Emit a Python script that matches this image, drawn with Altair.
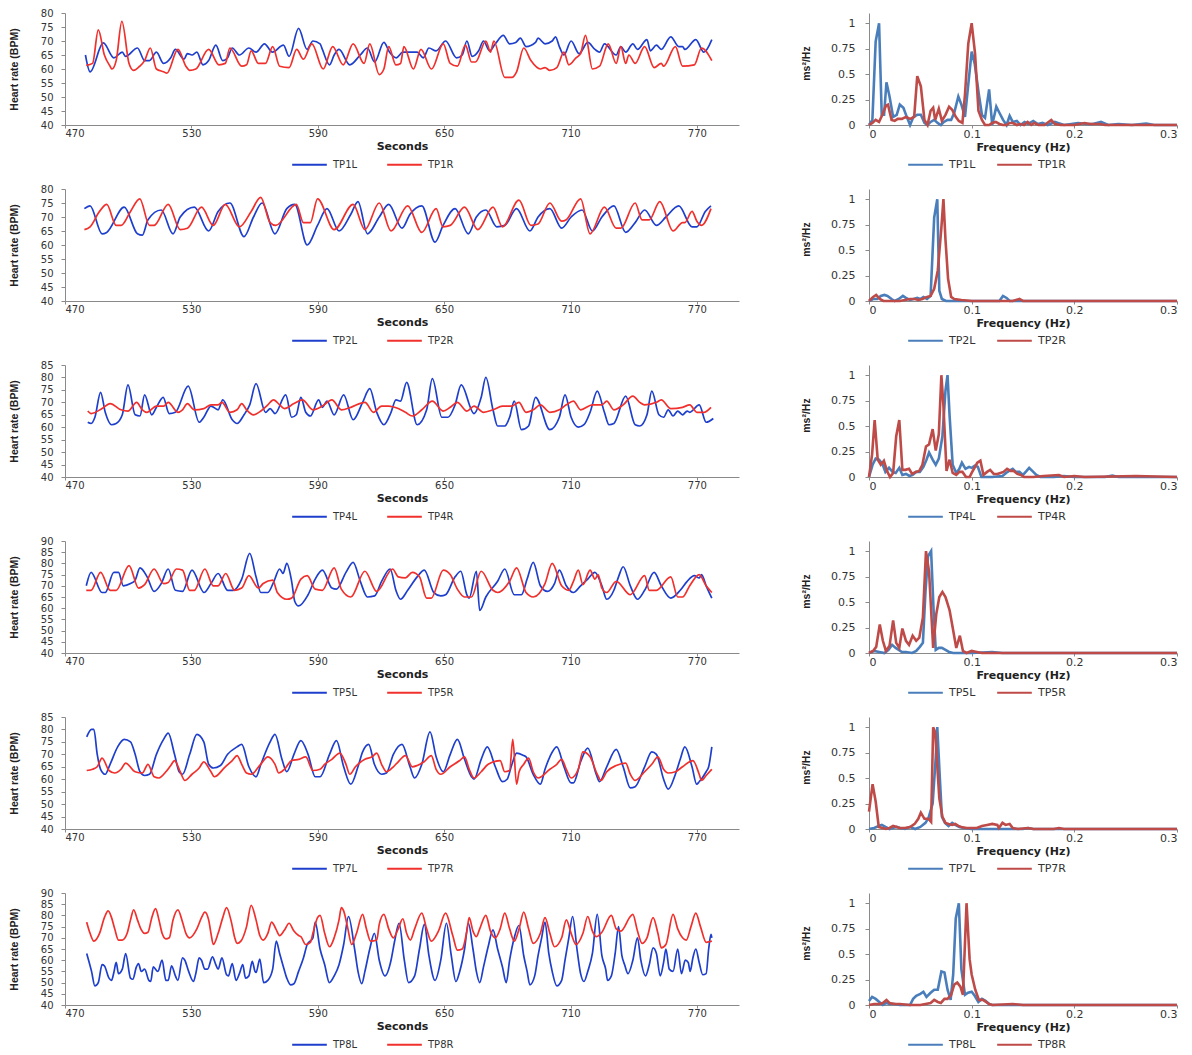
import altair as alt
import pandas as pd

# ---------------- heart-rate time series (seconds, BPM) ----------------
TP1L = [(479.7,65),(481.9,59),(488.2,69.3),(493.2,64),(497.2,66),(498.8,64.5),(504.4,67.5),(507.8,63),(510.1,63),(513.4,66),(516.8,62),(520.2,64),(522.4,67),(526.5,63.5),(528.1,65.5),(530.3,65),(532.6,66),(535.5,61.5),(538.2,63),(541.6,68.5),(544.9,63),(547.2,64),(549.4,67.5),(552.8,65),(557.3,67.5),(560.7,66),(564.7,69),(568.5,66),(573.7,68.5),(576.4,64.5),(580.9,74.5),(584.9,67),(587.7,70),(591.1,69),(592.2,67),(595.6,61.5),(597.8,65),(600.1,67),(605.2,61.5),(610.2,65),(613.6,67.5),(617.0,62.5),(621.4,69.5),(624.1,66),(627.3,64),(630.4,66),(634.9,66),(637.2,66),(640.1,64),(642.8,67.5),(646.2,66.5),(650.7,70),(655.9,64),(658.6,65),(660.8,70),(663.3,64.5),(666.4,66.5),(668.7,70),(671.6,66.5),(674.3,69),(678.1,72),(681.1,69),(684.0,69.5),(686.2,71),(688.9,68),(693.4,69.5),(694.6,71),(697.9,69),(701.3,70),(702.9,71.5),(704.7,68),(706.9,65),(710.3,70),(714.1,65.5),(718.2,69.5),(721.6,67),(723.8,66),(726.1,69),(731.7,65),(733.9,68),(736.2,66),(739.6,69),(741.8,67),(746.3,70.5),(747.9,66.5),(750.8,68.5),(753.1,67),(757.6,71.5),(761.4,68),(763.2,68),(764.3,67),(769.5,70.5),(773.3,66),(777.1,70.5)]
TP1R = [(480.1,61.3),(483.1,62),(485.8,74),(488.7,65),(491.4,61),(492.3,60),(494.3,63),(497.0,77),(500.4,62),(502.6,59.5),(505.5,61),(507.8,63),(510.5,67.5),(513.4,60),(516.8,59),(518.4,58.5),(523.6,67),(527.4,61),(529.2,59.5),(532.1,60),(538.2,67),(543.1,61.5),(546.1,62),(548.3,67.5),(553.9,61),(556.2,61.5),(558.4,66.5),(561.8,62),(565.2,62),(568.6,68),(571.9,61),(576.4,60.5),(580.0,67),(583.2,63.5),(587.2,69),(592.6,60),(597.1,68),(602.1,61.5),(606.8,69),(612.0,62),(614.7,69),(619.2,58),(621.4,60),(623.7,68),(627.1,61.5),(629.3,62),(630.9,68),(635.4,60),(639.0,67),(644.0,60),(649.6,69),(652.9,62),(656.3,61),(660.1,68.5),(663.0,62.5),(664.9,62.5),(669.8,70),(672.0,66),(673.6,70),(678.8,57),(682.2,57),(684.4,59),(687.8,67.5),(691.2,63),(695.7,60),(697.9,60.5),(700.2,59.5),(703.5,60.5),(706.9,66),(709.2,61.5),(712.6,64),(714.8,65.5),(717.1,72),(720.4,60),(723.8,61),(727.9,69),(731.7,62),(733.9,68),(736.2,62),(737.7,65),(740.7,62),(745.2,68),(749.7,60.5),(753.1,62),(754.2,61),(759.8,68),(763.2,61),(768.8,61.5),(772.2,67.5),(777.1,63)]

TP2L = [(479.2,73),(481.9,74),(487.6,64),(489.8,64.5),(498.1,73.5),(504.4,64),(506.7,63.5),(509.4,69),(515.7,72.5),(521.3,64),(524.7,70),(531.4,73.5),(538.2,65),(542.7,72),(548.3,75),(555.0,63),(559.5,70),(563.6,75),(569.7,64),(575.3,73),(579.1,74.5),(585.0,60),(589.9,67),(594.4,73),(600.1,65),(605.7,71),(609.1,75.5),(613.6,64),(619.2,70),(623.7,74.5),(630.0,66),(633.8,71),(639.4,74),(645.7,61),(649.5,67),(655.2,73),(661.5,64),(665.3,70),(669.8,72.5),(675.0,66.5),(678.8,67),(684.4,73),(690.7,65),(694.6,70),(700.2,73),(705.8,66),(710.3,70),(715.5,72.5),(720.4,65),(724.9,70),(730.6,74),(736.2,64.5),(740.7,68),(745.2,72.5),(750.8,67),(755.3,70),(761.4,74),(767.7,66.5),(770.0,66.5),(774.0,72),(776.7,74)]
TP2R = [(479.2,65.5),(481.9,66.5),(486.4,72),(489.8,74.5),(494.3,67),(496.6,67),(501.1,72),(505.5,76.5),(510.1,67),(512.3,67),(519.0,74.5),(524.7,65.5),(528.1,66),(534.8,73.5),(540.4,67),(546.1,74.5),(552.8,66.5),(558.4,72),(562.9,77),(567.4,68),(570.1,67),(579.8,74.5),(583.2,68),(586.5,68),(589.9,76.5),(597.8,65.5),(606.8,74.5),(612.4,65.5),(619.2,75),(624.8,65),(632.7,74),(639.4,64.5),(646.2,73),(649.5,66.5),(652.9,67),(659.7,73.5),(666.0,65.5),(673.2,73.5),(677.7,66.5),(685.5,76),(691.2,67),(694.6,67.5),(700.2,75),(705.8,68.5),(708.0,69),(714.8,76.5),(719.3,64),(726.1,73.5),(731.7,66),(733.9,66),(740.7,75),(744.0,69),(747.4,69),(752.4,75.5),(758.7,65),(763.2,68),(764.3,68),(767.7,72),(770.0,68.5),(772.2,67),(776.7,73)]

TP4L = [(480.8,62),(482.4,61.5),(484.2,64),(486.9,74),(489.1,66),(492.1,61),(494.3,61.5),(497.2,65),(499.9,77),(503.3,65),(505.6,64.5),(507.8,73),(511.2,65),(513.4,68),(516.6,72),(519.5,65.5),(522.4,66),(528.5,76.5),(533.7,62),(535.9,64),(539.3,68.5),(542.7,67),(544.9,71),(549.4,63),(551.7,61.5),(555.0,65),(557.7,69),(560.7,77.5),(565.2,66),(567.4,67.5),(569.7,65.5),(574.8,73),(577.6,64),(579.8,65),(582.0,72),(584.3,66),(586.5,64.5),(590.4,71),(592.2,68),(594.4,70.5),(597.8,65),(602.3,73),(606.8,63),(611.3,70),(614.7,75.5),(618.0,66),(621.4,61),(624.8,66),(627.1,71),(629.3,70.5),(632.2,78),(637.2,61),(641.7,67),(644.4,79.5),(648.9,64),(651.8,64),(655.2,69),(658.1,77),(664.2,65.5),(667.6,72),(669.8,80),(673.2,67),(675.4,60.5),(678.8,60.5),(681.1,64),(683.3,70.5),(686.7,59),(690.1,60.5),(693.4,72),(700.2,59),(704.7,64),(707.4,73),(710.3,64),(713.7,60),(716.4,61),(719.3,66),(722.7,74.5),(726.1,66),(728.3,61),(730.6,61.5),(736.2,72.5),(740.7,61),(742.9,60.5),(746.3,65),(748.6,74.5),(752.0,65),(754.2,64),(756.4,67),(758.7,64.5),(760.9,66.5),(763.2,65),(765.4,66.5),(766.6,66),(771.1,69),(774.4,62),(777.8,63.5)]
TP4R = [(480.8,66.5),(482.4,65.5),(487.6,67.5),(491.4,69.5),(496.6,67),(499.9,66.5),(504.0,70),(506.7,67),(508.9,66),(513.4,68.5),(516.8,68.5),(519.0,70),(523.6,66),(525.8,67),(528.1,69.5),(531.4,67),(535.9,67.5),(539.3,69),(542.7,69),(544.5,70),(548.3,66),(551.7,67),(553.9,69.5),(556.2,67),(559.5,65),(563.0,66.5),(566.3,69),(569.0,71),(571.9,69),(574.2,67.5),(578.7,69.5),(582.7,71),(587.7,67),(592.2,68.5),(596.7,71),(601.2,67),(605.7,68),(612.4,70),(616.5,66),(620.3,68.5),(623.7,68.5),(628.2,67.5),(631.6,66),(634.9,64.5),(639.4,67),(644.4,70.5),(649.5,66.5),(652.9,68),(656.3,70),(660.8,66.5),(664.2,68.5),(668.7,66),(673.2,67),(677.7,68.5),(682.2,68.5),(685.5,70),(688.9,66),(692.3,67),(695.7,69),(700.2,66),(704.7,67),(708.0,69),(711.4,70.5),(714.8,67),(720.4,69),(724.9,69),(727.2,70.5),(730.6,67),(735.0,69),(739.6,72.5),(742.9,70),(745.2,69),(750.8,70),(753.1,71),(757.6,67.5),(763.2,68),(766.6,69),(770.0,66),(773.3,66),(776.7,68)]

TP5L = [(480.1,70),(482.4,76),(487.6,67),(489.1,67),(493.2,76),(495.4,76),(497.7,70),(501.1,71),(503.3,72.5),(505.6,78),(509.0,74),(512.3,67.5),(515.7,71),(519.0,77.5),(522.4,68),(525.8,67.5),(530.3,77),(536.0,67),(539.3,71),(542.7,75.5),(547.2,68),(549.9,68),(553.9,73),(557.7,84.5),(560.7,74),(563.0,67),(566.3,67),(569.2,72),(571.9,77.5),(573.5,75.5),(575.3,80),(577.6,72),(579.1,63),(580.9,61),(585.4,66),(588.8,73),(592.2,77),(596.7,69),(598.9,68.5),(603.4,76),(606.8,80.5),(610.2,72),(613.6,65),(617.0,65.5),(620.3,72),(624.4,77.5),(627.1,68),(629.3,64),(632.7,68),(637.2,74),(640.6,77),(645.1,67),(648.4,65.5),(650.7,66),(655.2,74),(657.9,76.5),(660.8,66),(661.9,64.5),(665.3,76.5),(666.9,59),(669.8,65),(675.4,72),(678.8,77.5),(683.3,66),(686.7,66),(689.4,73),(692.3,80.5),(695.7,70),(699.0,67.5),(702.4,71),(704.7,77),(708.0,70),(711.4,67),(714.8,70),(718.2,73),(721.6,76),(724.9,70),(727.2,64),(730.6,68),(732.8,74),(735.0,78.5),(738.4,70),(741.8,64),(745.2,68),(749.7,76),(753.1,70),(757.6,64.5),(762.1,68),(765.4,72),(768.8,74.5),(771.1,73.5),(772.2,75),(774.4,70),(777.1,64.5)]
TP5R = [(480.1,68),(482.4,68),(486.9,76),(491.4,68),(494.3,68),(500.4,79),(504.9,69),(507.8,70.5),(512.3,77.5),(516.8,71),(519.0,71.5),(522.9,77.5),(525.8,77),(529.2,68),(531.4,68),(536.4,77.5),(540.4,70),(542.7,70),(546.3,75.5),(550.5,68),(553.9,69),(557.3,74.5),(561.8,69),(564.1,71),(568.6,72.5),(570.8,67),(575.3,64),(577.6,64.5),(582.0,73),(585.0,74.5),(588.8,68.5),(592.2,68),(597.8,78),(601.2,68.5),(605.7,65),(612.4,76.5),(618.0,67.5),(625.5,77.5),(628.2,74),(631.6,73.5),(634.9,76),(638.3,74),(641.7,64.5),(643.9,64.5),(649.6,77),(652.9,75),(656.3,68.5),(659.7,65),(663.0,65),(667.6,76.5),(673.2,68),(675.4,67),(681.1,72),(684.4,78),(688.9,67),(692.3,65),(697.9,71),(701.3,80),(705.8,70),(709.2,68),(711.4,72),(713.7,77),(715.9,70.5),(719.3,77),(721.6,73),(723.1,75),(724.9,69),(727.2,67),(731.7,72),(738.4,66),(745.2,74.5),(747.4,68),(750.8,68),(757.6,74),(760.9,65),(763.2,65),(766.6,70),(771.1,75),(774.4,70),(777.1,67)]

TP7L = [(480.3,77),(482.6,80),(483.7,80),(485.3,70),(486.9,64),(489.1,62),(491.4,66),(495.0,73),(498.1,76),(501.1,75),(503.3,70),(505.6,63),(507.8,61.5),(510.1,62),(513.4,70),(516.8,76),(519.0,78.5),(522.0,70),(524.2,63),(525.8,62),(529.2,70),(532.6,78),(535.9,75),(538.2,66),(540.4,64.5),(543.8,65.5),(547.2,70),(551.7,73),(553.9,74),(557.3,65),(560.7,61),(563.0,66),(567.4,75),(569.7,78),(573.0,68),(575.3,63),(578.7,70),(582.0,75.5),(585.4,70),(588.8,61),(591.1,61),(595.6,70),(598.9,75.5),(602.3,65),(605.7,58),(609.1,65),(611.3,71),(614.2,74),(616.9,66),(620.3,62),(622.6,62.5),(625.9,70),(630.0,74),(633.8,65),(636.0,60.5),(639.4,66),(643.3,79),(646.2,69),(649.6,63),(652.9,70),(656.3,76),(659.7,68),(663.0,61),(664.2,60),(667.6,68),(670.5,73),(674.3,65),(677.7,59),(679.9,60),(682.2,66),(684.4,70.5),(687.8,69.5),(688.9,69),(692.3,62),(695.7,58),(697.9,64),(700.2,69),(703.5,73),(706.9,65),(710.3,58.5),(711.4,58.5),(714.8,67),(718.2,72.5),(722.2,62),(723.8,59),(727.2,65),(731.7,72),(735.0,65),(738.4,56.5),(740.7,57),(745.2,65),(748.6,71),(750.8,70),(754.2,60),(756.4,56),(759.8,62),(762.1,68),(764.3,73),(767.7,65),(769.9,58),(771.1,59),(774.4,63),(775.6,65),(777.1,73)]
TP7R = [(480.3,63.5),(483.1,64),(485.3,65),(487.6,68.5),(490.9,63.5),(493.6,62.5),(496.6,64),(498.8,66.5),(503.3,63),(506.7,62.5),(509.4,66),(512.3,61),(514.6,60.5),(517.9,63),(520.2,65.5),(522.0,67.5),(524.7,63),(526.9,59.5),(530.3,62),(533.7,64.5),(535.9,67),(539.3,63),(540.9,61),(546.1,65),(549.4,67.5),(551.7,69.5),(553.9,66),(556.2,62.5),(558.4,62),(562.9,66),(566.3,69),(569.7,66),(571.5,62.5),(574.2,64),(577.6,67.5),(581.0,68),(584.3,69),(587.7,63.5),(591.1,64),(593.3,66),(596.7,68),(600.5,70.5),(603.4,66),(605.2,62),(607.9,65),(612.4,68),(615.8,69),(618.0,70.5),(620.3,66),(622.6,63),(625.9,65),(628.2,67),(631.6,69.5),(634.9,65),(637.2,65.5),(640.5,67),(643.9,69.5),(646.2,64),(648.4,62),(652.9,65),(657.4,67.5),(659.7,69),(661.9,64),(664.2,60.5),(667.6,63),(670.9,66),(676.6,67.5),(678.8,63),(681.1,63.5),(682.6,76),(684.4,58),(685.6,63),(687.8,66),(690.1,68.5),(692.3,63),(694.6,60.5),(700.2,64),(703.5,66),(705.8,68),(708.0,64),(710.3,60.5),(713.7,64),(715.9,71),(719.3,69),(722.7,62),(724.5,59.5),(727.2,63),(731.7,65.5),(736.2,66.5),(738.4,62),(740.7,59.5),(745.2,63),(748.6,66),(751.5,69),(754.2,64),(756.4,62.5),(759.8,63),(763.2,65),(768.1,67.5),(771.1,62),(772.2,59.5),(774.4,61.5),(777.1,64)]

TP8L = [(480.3,63),(482.6,55),(484.2,48.5),(485.8,50),(487.6,58),(488.7,57.5),(490.9,52),(492.1,51),(493.2,54.5),(494.3,59),(495.4,54),(497.2,56),(498.8,63),(501.1,52),(502.2,51.5),(503.9,57),(504.9,58.5),(506.2,55),(507.8,56),(509.8,51),(510.7,50.5),(511.9,57),(514.1,55),(516.1,60),(517.9,51),(519.0,51),(520.6,57.5),(522.4,53),(523.6,51),(525.8,61),(526.9,60),(528.7,55),(531.0,50.5),(532.1,54),(533.7,61),(534.8,60),(536.4,56),(537.7,56),(540.0,61.5),(541.6,58),(542.7,56),(544.5,61),(546.7,53.5),(547.6,53),(549.4,58.5),(551.2,51),(552.8,54),(554.4,58),(555.7,52),(557.3,53),(558.9,59.5),(560.2,55),(560.7,54.5),(562.5,60.5),(564.3,50),(566.3,51),(568.6,56),(570.3,68.5),(571.9,63),(573.7,57),(575.3,52),(577.1,49),(578.7,49.5),(580.9,55),(583.2,61),(585.0,67),(587.7,70),(588.8,77),(591.1,65),(593.3,58),(595.5,50),(597.8,53),(600.1,58),(602.3,67),(604.6,79.5),(607.5,65),(609.1,55),(610.9,49.5),(612.4,55),(614.7,65),(616.9,72),(619.2,60),(621.9,53),(624.8,60),(626.4,68),(628.6,76.5),(631.1,60),(633.1,50),(636.0,53),(638.3,65),(640.6,76),(642.8,62),(645.7,51),(648.4,60),(651.1,76.5),(653.4,62),(655.6,50.5),(657.4,55),(659.7,65),(661.5,76.5),(663.7,65),(665.3,55),(666.9,50),(668.7,57),(670.9,66),(673.2,73.5),(675.4,65),(677.7,57),(679.5,50),(681.1,60),(683.3,70),(685.5,75.5),(687.8,62),(689.4,55),(690.7,49),(693.0,53),(694.6,62),(696.3,70),(697.9,77),(699.7,63),(701.3,55),(703.5,48.5),(705.8,51),(707.4,60),(709.2,70),(711.0,79.5),(713.2,64),(714.8,54),(716.4,50.5),(718.2,55),(720.4,63),(722.7,80.5),(724.9,62),(726.7,56),(727.6,51),(729.4,53),(731.2,63),(732.8,75),(734.4,62),(735.7,58),(737.3,54),(739.6,60),(741.8,70),(743.4,60),(745.6,53),(747.4,58),(749.2,65.5),(750.8,63),(752.6,53),(754.2,59),(755.3,65),(756.9,56),(758.7,55),(760.9,65),(762.7,54),(764.5,60),(765.9,59),(766.8,55),(768.1,61),(769.5,65),(771.1,59),(772.8,53.5),(774.4,54),(775.6,65),(776.7,71.5),(777.1,70)]
TP8R = [(480.3,77),(481.9,72),(483.7,68.5),(486.4,72),(488.7,79),(490.5,82),(492.1,79),(493.6,74),(495.4,69),(497.2,69),(499.5,72),(501.1,78),(502.6,82.5),(504.4,78),(506.0,74),(507.8,72),(509.4,72.5),(511.2,79),(513.0,83),(514.6,78),(516.1,72),(517.9,69.5),(519.5,70),(521.3,78),(523.6,82.5),(525.8,77),(527.4,72),(529.2,70),(532.6,74),(534.8,79),(536.4,81.5),(538.2,78),(539.3,72),(540.4,67),(542.7,72),(544.9,79),(546.7,83.5),(549.0,77),(550.6,70),(551.7,67.5),(553.5,68.5),(556.2,75),(558.4,84.5),(560.7,78),(562.5,71),(564.1,69),(566.3,72),(568.1,77),(570.1,74),(571.9,71),(574.2,73.5),(576.4,76.5),(578.7,73),(580.9,71),(582.0,70.5),(584.3,67),(586.5,68),(587.7,72),(589.9,79),(591.1,80),(593.3,72),(595.6,66),(597.8,70),(600.1,78),(601.2,83.5),(602.3,82),(604.1,75),(606.1,67),(608.4,72),(611.3,80.5),(613.1,74),(615.1,68.5),(618.0,69),(619.2,76),(621.4,80.5),(623.7,74),(625.9,70),(628.2,74),(630.4,78.5),(632.2,72),(634.0,69),(636.0,74),(639.4,81),(641.7,74),(643.9,68.5),(647.3,73),(650.7,81),(654.1,71),(656.3,64.5),(658.6,65),(660.8,73),(661.9,79),(663.7,73),(665.3,70.5),(666.9,74),(669.8,80),(672.0,73),(674.3,70),(676.6,74),(678.8,81),(681.1,74),(683.3,68.5),(685.6,74),(687.8,81.5),(690.1,74),(692.3,67.5),(695.7,72),(697.9,79),(700.2,72),(702.4,66),(705.8,70),(708.0,78),(710.3,72),(712.6,67),(715.9,72),(718.2,79.5),(720.4,73),(722.2,70.5),(724.9,72.5),(729.4,80),(731.7,74),(733.9,73),(738.4,79.5),(739.6,80.5),(741.8,73),(744.0,67.5),(746.3,70),(749.2,79),(751.5,72),(753.1,65.5),(755.3,67),(758.7,80.5),(760.9,74),(763.2,70),(765.0,69),(767.2,75),(769.5,81),(771.7,75),(774.4,68),(777.1,68.5)]

# ---------------- normalised spectra (Hz, ms^2/Hz) ----------------
S1L = [(0,0),(0.0033,0.05),(0.0065,0.82),(0.0098,1.0),(0.0124,0.1),(0.0147,0.1),(0.017,0.42),(0.02,0.28),(0.0235,0.08),(0.027,0.1),(0.03,0.2),(0.0335,0.17),(0.0368,0.08),(0.04,0.0),(0.0433,0.08),(0.047,0.1),(0.0505,0.1),(0.054,0.02),(0.057,0.0),(0.06,0.03),(0.0635,0.05),(0.0668,0.02),(0.07,0.0),(0.073,0.03),(0.0765,0.05),(0.08,0.05),(0.083,0.12),(0.087,0.28),(0.09,0.2),(0.0935,0.08),(0.0967,0.4),(0.1,0.72),(0.103,0.6),(0.107,0.3),(0.11,0.1),(0.113,0.07),(0.117,0.35),(0.12,0.0),(0.124,0.18),(0.127,0.12),(0.1306,0.05),(0.134,0.0),(0.137,0.09),(0.14,0.03),(0.144,0.04),(0.1476,0.0),(0.1515,0.03),(0.155,0.01),(0.16,0.04),(0.1645,0.01),(0.169,0.02),(0.174,0.0),(0.181,0.03),(0.184,0.02),(0.19,0.0),(0.197,0.01),(0.2036,0.02),(0.212,0.01),(0.218,0.01),(0.226,0.03),(0.233,0.0),(0.243,0.01),(0.256,0.0),(0.27,0.015),(0.278,0.0),(0.3,0.0)]
S1R = [(0,0),(0.0033,0.02),(0.0065,0.05),(0.0098,0.03),(0.013,0.1),(0.0165,0.19),(0.0185,0.2),(0.022,0.05),(0.025,0.04),(0.028,0.06),(0.032,0.06),(0.036,0.08),(0.04,0.06),(0.044,0.08),(0.047,0.48),(0.0505,0.38),(0.054,0.05),(0.057,0.0),(0.06,0.14),(0.0625,0.17),(0.0645,0.05),(0.068,0.16),(0.071,0.04),(0.0745,0.1),(0.078,0.18),(0.081,0.15),(0.0845,0.08),(0.0875,0.04),(0.091,0.02),(0.0935,0.3),(0.0967,0.8),(0.1,1.0),(0.1033,0.7),(0.1066,0.14),(0.11,0.05),(0.113,0.0),(0.117,0.0),(0.12,0.02),(0.1235,0.03),(0.127,0.01),(0.1305,0.0),(0.134,0.0),(0.137,0.02),(0.14,0.02),(0.144,0.0),(0.1475,0.01),(0.151,0.0),(0.1545,0.03),(0.158,0.0),(0.161,0.02),(0.165,0.0),(0.171,0.0),(0.1775,0.05),(0.181,0.01),(0.187,0.0),(0.2,0.0),(0.21,0.02),(0.215,0.01),(0.225,0.01),(0.23,0.0),(0.25,0.0),(0.3,0.0)]
S2L = [(0,0),(0.004,0.02),(0.008,0.02),(0.0115,0.05),(0.015,0.06),(0.018,0.05),(0.022,0.02),(0.025,0.0),(0.029,0.02),(0.033,0.05),(0.036,0.03),(0.04,0.01),(0.0435,0.02),(0.047,0.03),(0.05,0.02),(0.053,0.04),(0.0565,0.02),(0.06,0.05),(0.0635,0.82),(0.0665,1.0),(0.0685,0.1),(0.071,0.02),(0.075,0.0),(0.08,0.0),(0.09,0.0),(0.1,0.0),(0.12,0.0),(0.127,0.0),(0.1305,0.05),(0.134,0.03),(0.137,0.0),(0.15,0.0),(0.2,0.0),(0.3,0.0)]
S2R = [(0,0),(0.004,0.04),(0.007,0.06),(0.0105,0.02),(0.014,0.0),(0.02,0.0),(0.03,0.0),(0.04,0.02),(0.0445,0.02),(0.048,0.01),(0.052,0.02),(0.0565,0.04),(0.06,0.05),(0.0635,0.12),(0.067,0.3),(0.0705,0.72),(0.0725,1.0),(0.0745,0.6),(0.077,0.22),(0.08,0.04),(0.083,0.02),(0.09,0.01),(0.1,0.0),(0.14,0.0),(0.1465,0.02),(0.15,0.0),(0.2,0.0),(0.3,0.0)]
S4L = [(0,0),(0.0035,0.12),(0.0065,0.18),(0.0097,0.17),(0.013,0.13),(0.016,0.05),(0.0195,0.09),(0.023,0.05),(0.026,0.04),(0.0295,0.09),(0.0325,0.02),(0.036,0.03),(0.0395,0.01),(0.0425,0.02),(0.046,0.05),(0.0495,0.05),(0.053,0.1),(0.056,0.17),(0.0585,0.24),(0.062,0.17),(0.065,0.12),(0.068,0.18),(0.0715,0.4),(0.0745,0.85),(0.0765,1.0),(0.0785,0.6),(0.0815,0.12),(0.085,0.04),(0.088,0.08),(0.0905,0.14),(0.094,0.08),(0.0975,0.1),(0.1,0.09),(0.103,0.11),(0.106,0.1),(0.1095,0.0),(0.113,0.0),(0.12,0.0),(0.13,0.01),(0.1335,0.04),(0.1365,0.06),(0.14,0.08),(0.143,0.05),(0.1465,0.05),(0.15,0.02),(0.1535,0.06),(0.156,0.09),(0.16,0.05),(0.163,0.02),(0.167,0.0),(0.18,0.0),(0.19,0.01),(0.2,0.0),(0.23,0.0),(0.237,0.015),(0.243,0.0),(0.26,0.0),(0.3,0.0)]
S4R = [(0,0),(0.003,0.22),(0.0055,0.56),(0.0085,0.17),(0.0115,0.12),(0.0145,0.16),(0.0175,0.06),(0.0205,0.0),(0.0235,0.04),(0.0265,0.4),(0.0295,0.56),(0.0325,0.07),(0.0355,0.07),(0.039,0.08),(0.042,0.03),(0.0455,0.05),(0.049,0.06),(0.052,0.12),(0.0555,0.3),(0.0585,0.32),(0.062,0.47),(0.065,0.26),(0.068,0.42),(0.0705,1.0),(0.0725,0.7),(0.0755,0.06),(0.0785,0.17),(0.0815,0.04),(0.085,0.02),(0.088,0.05),(0.091,0.05),(0.0945,0.0),(0.098,0.0),(0.1,0.04),(0.1055,0.14),(0.1085,0.16),(0.1115,0.02),(0.115,0.05),(0.118,0.07),(0.1215,0.03),(0.125,0.03),(0.128,0.04),(0.131,0.05),(0.1345,0.08),(0.138,0.06),(0.141,0.06),(0.1445,0.03),(0.148,0.02),(0.151,0.0),(0.16,0.0),(0.17,0.01),(0.185,0.02),(0.19,0.0),(0.2,0.01),(0.21,0.0),(0.26,0.01),(0.3,0.0)]
S5L = [(0,0),(0.005,0.02),(0.01,0.01),(0.015,0.0),(0.019,0.03),(0.0225,0.08),(0.026,0.05),(0.029,0.03),(0.032,0.01),(0.036,0.01),(0.042,0.0),(0.046,0.02),(0.0495,0.06),(0.0525,0.1),(0.055,0.6),(0.0575,0.95),(0.0605,1.0),(0.063,0.4),(0.065,0.03),(0.068,0.05),(0.071,0.05),(0.0745,0.03),(0.078,0.01),(0.082,0.0),(0.1,0.0),(0.12,0.01),(0.13,0.0),(0.3,0.0)]
S5R = [(0,0),(0.004,0.02),(0.007,0.06),(0.0105,0.28),(0.0135,0.12),(0.0165,0.02),(0.02,0.07),(0.0235,0.32),(0.0265,0.1),(0.0295,0.05),(0.0325,0.24),(0.036,0.12),(0.039,0.08),(0.0425,0.17),(0.046,0.12),(0.049,0.15),(0.0525,0.35),(0.0555,1.0),(0.0585,0.8),(0.0625,0.05),(0.0655,0.38),(0.0685,0.55),(0.0715,0.6),(0.0745,0.55),(0.0785,0.42),(0.0815,0.25),(0.085,0.05),(0.0885,0.17),(0.0915,0.02),(0.095,0.0),(0.1,0.02),(0.105,0.01),(0.11,0.0),(0.3,0.0)]
S7L = [(0,0),(0.005,0.01),(0.0095,0.03),(0.0125,0.04),(0.016,0.02),(0.02,0.0),(0.023,0.01),(0.027,0.02),(0.03,0.01),(0.035,0.0),(0.04,0.02),(0.045,0.0),(0.05,0.02),(0.055,0.06),(0.058,0.11),(0.062,0.25),(0.065,0.7),(0.0665,1.0),(0.069,0.5),(0.071,0.12),(0.074,0.06),(0.0775,0.03),(0.081,0.06),(0.084,0.04),(0.088,0.02),(0.092,0.01),(0.1,0.0),(0.15,0.0),(0.155,0.01),(0.16,0.0),(0.3,0.0)]
S7R = [(0,0.17),(0.0035,0.44),(0.0065,0.27),(0.0095,0.02),(0.013,0.01),(0.0165,0.0),(0.02,0.01),(0.0235,0.03),(0.027,0.02),(0.03,0.01),(0.035,0.01),(0.04,0.02),(0.0445,0.05),(0.048,0.1),(0.0505,0.16),(0.054,0.1),(0.058,0.1),(0.0605,0.07),(0.0625,1.0),(0.0645,0.95),(0.066,0.7),(0.0685,0.3),(0.0715,0.12),(0.0745,0.06),(0.0775,0.05),(0.081,0.04),(0.084,0.05),(0.087,0.03),(0.09,0.02),(0.095,0.01),(0.1,0.01),(0.105,0.01),(0.11,0.03),(0.115,0.04),(0.12,0.05),(0.125,0.04),(0.1265,0.01),(0.13,0.06),(0.133,0.04),(0.137,0.05),(0.14,0.01),(0.145,0.0),(0.155,0.01),(0.16,0.0),(0.18,0.0),(0.185,0.01),(0.19,0.0),(0.3,0.0)]
S8L = [(0,0.04),(0.003,0.08),(0.0065,0.06),(0.01,0.03),(0.0135,0.0),(0.017,0.02),(0.02,0.01),(0.025,0.01),(0.03,0.0),(0.04,0.0),(0.043,0.06),(0.046,0.09),(0.05,0.11),(0.053,0.13),(0.056,0.08),(0.06,0.12),(0.0635,0.15),(0.067,0.15),(0.0705,0.33),(0.0735,0.32),(0.0765,0.15),(0.0795,0.05),(0.082,0.3),(0.0845,0.85),(0.0875,1.0),(0.09,0.35),(0.0935,0.1),(0.0965,0.12),(0.1,0.13),(0.103,0.09),(0.1065,0.03),(0.11,0.06),(0.1135,0.04),(0.117,0.01),(0.12,0.0),(0.3,0.0)]
S8R = [(0,0.0),(0.005,0.01),(0.01,0.01),(0.0135,0.02),(0.017,0.05),(0.02,0.02),(0.025,0.01),(0.03,0.01),(0.04,0.0),(0.05,0.0),(0.06,0.02),(0.0635,0.05),(0.067,0.03),(0.07,0.02),(0.0735,0.06),(0.0765,0.06),(0.08,0.1),(0.083,0.2),(0.086,0.22),(0.089,0.18),(0.0915,0.1),(0.095,1.0),(0.098,0.45),(0.1,0.3),(0.1035,0.15),(0.107,0.05),(0.111,0.05),(0.114,0.03),(0.117,0.01),(0.12,0.0),(0.14,0.01),(0.15,0.0),(0.3,0.0)]

ROW_NAMES = [("TP1L", "TP1R"), ("TP2L", "TP2R"), ("TP4L", "TP4R"),
             ("TP5L", "TP5R"), ("TP7L", "TP7R"), ("TP8L", "TP8R")]
HR_DATA = [(TP1L, TP1R), (TP2L, TP2R), (TP4L, TP4R), (TP5L, TP5R), (TP7L, TP7R), (TP8L, TP8R)]
SPEC_DATA = [(S1L, S1R), (S2L, S2R), (S4L, S4R), (S5L, S5R), (S7L, S7R), (S8L, S8R)]
Y_MAX = [80, 80, 85, 90, 85, 90]
X_TICKS = [470, 530, 590, 650, 710, 770]
F_TICKS = [0, 0.1, 0.2, 0.3]
P_TICKS = [0, 0.25, 0.5, 0.75, 1]

LEFT_BLUE, LEFT_RED = "#1e3fcc", "#f0302c"
RIGHT_BLUE, RIGHT_RED = "#4a7ebb", "#be4b48"
AX = dict(domainColor="#8a8a8a", tickColor="#8a8a8a", grid=False,
          labelColor="#333333", titleColor="#222222")
WIDE = "DejaVu Sans"
NARROW = "Liberation Sans Narrow, Liberation Sans, sans-serif"

PW_L, PW_R, PH = 674, 308, 112


def frame(pairs, name, xcol, ycol):
    return pd.DataFrame({xcol: [p[0] for p in pairs], ycol: [p[1] for p in pairs], "series": name})


def legend(x, pad, size):
    return alt.Legend(orient="none", legendX=x, legendY=133, direction="horizontal", title=None,
                      symbolType="stroke", symbolStrokeWidth=2.2, symbolSize=1200,
                      labelFont=WIDE, labelFontSize=size, labelColor="#333333",
                      columnPadding=pad, labelOffset=5)


def hr_panel(i):
    nl, nr = ROW_NAMES[i]
    dl, dr = HR_DATA[i]
    ymax = Y_MAX[i]
    df = pd.concat([frame(dl, nl, "t", "hr"), frame(dr, nr, "t", "hr")], ignore_index=True)
    return alt.Chart(df).mark_line(strokeWidth=1.7, interpolate="monotone").encode(
        x=alt.X("t:Q", scale=alt.Scale(domain=[470, 790], nice=False, zero=False),
                axis=alt.Axis(values=X_TICKS, format="d", title="Seconds", labelFont=WIDE,
                              labelFontSize=10, labelPadding=0, tickSize=3, titleFont=WIDE,
                              titleFontWeight="bold", titleFontSize=11, titlePadding=2, **AX)),
        y=alt.Y("hr:Q", scale=alt.Scale(domain=[40, ymax], nice=False, zero=False),
                axis=alt.Axis(values=list(range(40, ymax + 1, 5)), title="Heart rate (BPM)",
                              labelFont=WIDE, labelFontSize=10, labelPadding=8, tickSize=4,
                              titleFont=NARROW, titleFontWeight="bold", titleFontSize=10.5,
                              titleX=-51, titleY=PH / 2, titleAlign="center", titleBaseline="middle", **AX)),
        color=alt.Color("series:N", scale=alt.Scale(domain=[nl, nr], range=[LEFT_BLUE, LEFT_RED]),
                        legend=legend(226, 24, 10)),
    ).properties(width=PW_L, height=PH)


def spec_panel(i):
    nl, nr = ROW_NAMES[i]
    dl, dr = SPEC_DATA[i]
    df = pd.concat([frame(dl, nl, "f", "p"), frame(dr, nr, "f", "p")], ignore_index=True)
    return alt.Chart(df).mark_line(strokeWidth=2.6).encode(
        x=alt.X("f:Q", scale=alt.Scale(domain=[0, 0.3], nice=False, zero=False),
                axis=alt.Axis(values=F_TICKS, format="~g", title="Frequency (Hz)", labelFont=WIDE,
                              labelFontSize=11, labelPadding=0, tickSize=3, titleFont=WIDE,
                              titleFontWeight="bold", titleFontSize=11, titlePadding=2, **AX)),
        y=alt.Y("p:Q", scale=alt.Scale(domain=[0, 1.1], nice=False, zero=True),
                axis=alt.Axis(values=P_TICKS, format=".2~f", title="ms²/Hz", labelFont=WIDE,
                              labelFontSize=11, labelPadding=10, tickSize=4,
                              titleFont=NARROW, titleFontWeight="bold", titleFontSize=10.5,
                              titleX=-63, titleY=PH / 2 - 6, titleAlign="center", titleBaseline="middle", **AX)),
        color=alt.Color("series:N", scale=alt.Scale(domain=[nl, nr], range=[RIGHT_BLUE, RIGHT_RED]),
                        legend=legend(38, 16, 11)),
    ).properties(width=PW_R, height=PH)


panels = []
for i in range(6):
    panels.append(hr_panel(i))
    panels.append(spec_panel(i))

chart = alt.concat(*panels, columns=2, spacing={"row": 64, "column": 130}, bounds="flush").resolve_scale(
    color="independent", x="independent", y="independent"
).resolve_legend(color="independent").configure_view(stroke=None).properties(padding=0)

chart.save("out.html", embed_options={"renderer": "svg", "actions": False})
